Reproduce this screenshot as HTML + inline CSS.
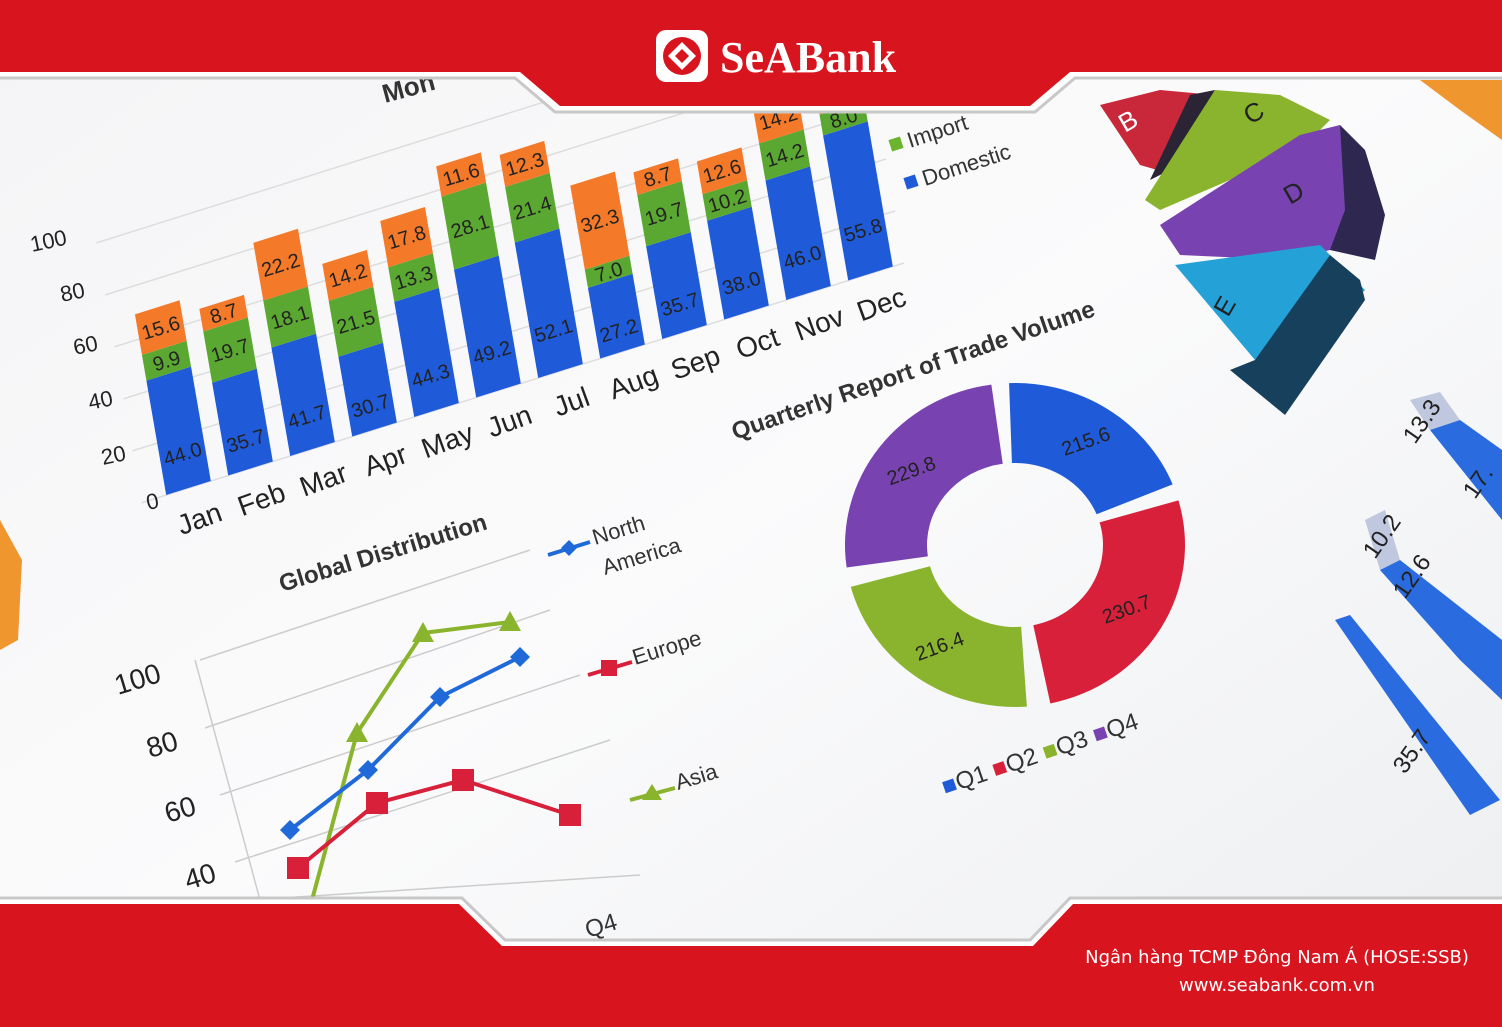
<!DOCTYPE html>
<html><head><meta charset="utf-8"><style>
html,body{margin:0;padding:0;background:#fff}
svg{display:block}
text{font-family:"Liberation Sans",sans-serif}
</style></head><body>
<svg id="s" width="1502" height="1027" viewBox="0 0 1502 1027" xmlns="http://www.w3.org/2000/svg">
<defs>
<linearGradient id="bg" x1="0" y1="0" x2="1" y2="1"><stop offset="0" stop-color="#f4f4f6"/><stop offset="0.5" stop-color="#fbfbfc"/><stop offset="1" stop-color="#eceef0"/></linearGradient>
</defs>
<rect width="1502" height="1027" fill="url(#bg)"/>
<polygon points="0,520 22,560 18,640 0,650" fill="#f0962e"/>
<polygon points="1420,80 1502,80 1502,140 1460,110" fill="#f0962e"/>

<polygon points="1100,105 1160,90 1215,95 1175,175 1140,165" fill="#c8283a"/>
<polygon points="1190,95 1215,90 1170,170 1150,180" fill="#2a2434"/>
<polygon points="1215,90 1280,95 1330,120 1300,150 1160,210 1145,200" fill="#8ab42e"/>
<polygon points="1300,135 1340,125 1375,190 1370,240 1290,260 1180,255 1160,225" fill="#7842b0"/>
<polygon points="1340,125 1365,150 1385,215 1375,260 1330,250 1345,210" fill="#2e2850"/>
<polygon points="1175,265 1320,245 1365,290 1325,330 1255,360" fill="#24a2d8"/>
<polygon points="1330,255 1360,280 1365,300 1285,415 1230,370 1255,360" fill="#16405c"/>
<text x="1125" y="133" font-size="26" fill="#fff" transform="rotate(-30 1125 133)">B</text>
<text x="1250" y="125" font-size="26" fill="#222" transform="rotate(-30 1250 125)">C</text>
<text x="1290" y="205" font-size="26" fill="#222" transform="rotate(-30 1290 205)">D</text>
<text x="1228" y="318" font-size="26" fill="#222" transform="rotate(-60 1228 318)">E</text>

<polygon points="1410,400 1440,392 1460,420 1430,430" fill="#c0c8e0"/>
<polygon points="1430,430 1460,420 1502,450 1502,520 1470,480" fill="#2a6ce0"/>
<polygon points="1365,520 1385,510 1400,560 1380,570" fill="#c0c8e0"/>
<polygon points="1380,570 1400,560 1502,640 1502,700 1460,660" fill="#2a6ce0"/>
<polygon points="1335,620 1350,615 1500,800 1470,815" fill="#2a6ce0"/>
<text x="1415" y="445" font-size="24" fill="#222" transform="rotate(-55 1415 445)">13.3</text>
<text x="1475" y="500" font-size="24" fill="#222" transform="rotate(-55 1475 500)">17.</text>
<text x="1375" y="560" font-size="24" fill="#222" transform="rotate(-55 1375 560)">10.2</text>
<text x="1405" y="600" font-size="24" fill="#222" transform="rotate(-55 1405 600)">12.6</text>
<text x="1405" y="775" font-size="24" fill="#222" transform="rotate(-55 1405 775)">35.7</text>

<g id="bars"></g>

<text x="148" y="510" font-size="22" fill="#222" transform="rotate(-12 148 510)">0</text>
<text x="103" y="465" font-size="22" fill="#222" transform="rotate(-12 103 465)">20</text>
<text x="90" y="410" font-size="22" fill="#222" transform="rotate(-12 90 410)">40</text>
<text x="75" y="355" font-size="22" fill="#222" transform="rotate(-12 75 355)">60</text>
<text x="62" y="302" font-size="22" fill="#222" transform="rotate(-12 62 302)">80</text>
<text x="32" y="252" font-size="22" fill="#222" transform="rotate(-12 32 252)">100</text>
<text x="385" y="103" font-size="26" font-weight="bold" fill="#333" transform="rotate(-15 385 103)">Mon</text>
<rect x="890" y="138" width="12" height="12" fill="#6ab42e" transform="rotate(-18 896 144)"/>
<text x="910" y="148" font-size="22" fill="#333" transform="rotate(-18 910 148)">Import</text>
<rect x="905" y="176" width="12" height="12" fill="#1f5ad8" transform="rotate(-18 911 182)"/>
<text x="925" y="186" font-size="22" fill="#333" transform="rotate(-18 925 186)">Domestic</text>

<g id="donut"></g>
<text x="735" y="440" font-size="24" font-weight="bold" fill="#333" transform="rotate(-19 735 440)">Quarterly Report of Trade Volume</text>
<text x="945" y="795" font-size="24" fill="#333" transform="rotate(-19 945 795)"><tspan fill="#1f5ad8">■</tspan>Q1 <tspan fill="#d8203a">■</tspan>Q2 <tspan fill="#8ab42e">■</tspan>Q3 <tspan fill="#7842b0">■</tspan>Q4</text>

<text x="282" y="592" font-size="24" font-weight="bold" fill="#333" transform="rotate(-17 282 592)">Global Distribution</text>
<g stroke="#ccc" stroke-width="1.5">
<line x1="200" y1="660" x2="530" y2="550"/><line x1="205" y1="728" x2="550" y2="610"/>
<line x1="220" y1="795" x2="580" y2="675"/><line x1="235" y1="862" x2="610" y2="740"/>
<line x1="250" y1="900" x2="640" y2="875"/><line x1="195" y1="660" x2="260" y2="900"/>
</g>
<text x="118" y="695" font-size="28" fill="#222" transform="rotate(-17 118 695)">100</text>
<text x="150" y="758" font-size="28" fill="#222" transform="rotate(-17 150 758)">80</text>
<text x="168" y="823" font-size="28" fill="#222" transform="rotate(-17 168 823)">60</text>
<text x="188" y="890" font-size="28" fill="#222" transform="rotate(-17 188 890)">40</text>
<polyline points="312,900 357,733 423,633 510,622" fill="none" stroke="#8ab42e" stroke-width="4"/>
<polyline points="290,830 368,770 440,697 520,657" fill="none" stroke="#1f6ad8" stroke-width="4"/>
<polyline points="298,868 377,803 463,780 570,815" fill="none" stroke="#d8203a" stroke-width="4"/>
<g fill="#8ab42e"><polygon points="357,722 368,742 346,742"/><polygon points="423,622 434,642 412,642"/><polygon points="510,611 521,631 499,631"/></g>
<g fill="#1f6ad8"><polygon points="290,820 300,830 290,840 280,830"/><polygon points="368,760 378,770 368,780 358,770"/><polygon points="440,687 450,697 440,707 430,697"/><polygon points="520,647 530,657 520,667 510,657"/></g>
<g fill="#d8203a"><rect x="287" y="857" width="22" height="22"/><rect x="366" y="792" width="22" height="22"/><rect x="452" y="769" width="22" height="22"/><rect x="559" y="804" width="22" height="22"/></g>
<line x1="548" y1="555" x2="590" y2="542" stroke="#1f6ad8" stroke-width="4"/><polygon points="569,540 577,548 569,556 561,548" fill="#1f6ad8"/>
<text x="595" y="545" font-size="22" fill="#333" transform="rotate(-17 595 545)">North</text>
<text x="605" y="575" font-size="22" fill="#333" transform="rotate(-17 605 575)">America</text>
<line x1="588" y1="675" x2="632" y2="662" stroke="#d8203a" stroke-width="4"/><rect x="601" y="660" width="16" height="16" fill="#d8203a"/>
<text x="635" y="665" font-size="22" fill="#333" transform="rotate(-17 635 665)">Europe</text>
<line x1="630" y1="800" x2="675" y2="788" stroke="#8ab42e" stroke-width="4"/><polygon points="652,784 662,800 642,800" fill="#8ab42e"/>
<text x="678" y="790" font-size="22" fill="#333" transform="rotate(-17 678 790)">Asia</text>
<text x="588" y="938" font-size="24" fill="#333" transform="rotate(-17 588 938)">Q4</text>

<path d="M0,0 H1502 V78 H1075 L1035,112 H555 L515,78 H0 Z" fill="#fff"/>
<path d="M0,0 H1502 V72 H1070 L1030,106 H560 L520,72 H0 Z" fill="#d8141e"/>
<path d="M0,78 H515 L555,112 H1035 L1075,78 H1502" fill="none" stroke="#c8c8c8" stroke-width="3"/>
<rect x="656" y="30" width="52" height="52" rx="10" fill="#fff"/>
<circle cx="682" cy="56" r="19" fill="#d8141e"/>
<polygon points="682,42 696,56 682,70 668,56" fill="#fff"/>
<polygon points="682,49 689,56 682,63 675,56" fill="#d8141e"/>
<text x="720" y="72" font-size="44" font-weight="bold" fill="#fff" style="font-family:'Liberation Serif',serif">SeABank</text>

<path d="M0,1027 H1502 V898 H1070 L1030,940 H505 L462,898 H0 Z" fill="#fff"/>
<path d="M0,1027 H1502 V904 H1073 L1033,946 H502 L459,904 H0 Z" fill="#d8141e"/>
<path d="M0,898 H462 L505,940 H1030 L1070,898 H1502" fill="none" stroke="#c8c8c8" stroke-width="3"/>
<text x="1277" y="963" font-size="18" fill="#fff" text-anchor="middle" style="font-family:'DejaVu Sans',sans-serif">Ngân hàng TCMP Đông Nam Á (HOSE:SSB)</text>
<text x="1277" y="991" font-size="18" fill="#fff" text-anchor="middle" style="font-family:'DejaVu Sans',sans-serif">www.seabank.com.vn</text>
</svg>
<script>
var NS="http://www.w3.org/2000/svg",g=document.getElementById("bars");
var B=[44.0,35.7,41.7,30.7,44.3,49.2,52.1,27.2,35.7,38.0,46.0,55.8],
G=[9.9,19.7,18.1,21.5,13.3,28.1,21.4,7.0,19.7,10.2,14.2,8],
O=[15.6,8.7,22.2,14.2,17.8,11.6,12.3,32.3,8.7,12.6,14.2,10],
M=["Jan","Feb","Mar","Apr","May","Jun","Jul","Aug","Sep","Oct","Nov","Dec"];
function P(u,v){return[160+62*u-0.45*v,497-19.5*u-2.6*v];}
function el(t,a,txt){var e=document.createElementNS(NS,t);for(var k in a)e.setAttribute(k,a[k]);if(txt)e.textContent=txt;g.appendChild(e);return e;}
for(var v=0;v<=100;v+=20){var a=P(-0.3,v),b=P(12,v);el("line",{x1:a[0],y1:a[1],x2:b[0],y2:b[1],stroke:"#ddd","stroke-width":1.5});}
for(var i=0;i<12;i++){
 var u0=i+0.1,u1=i+0.82,segs=[[0,B[i],"#1f5ad8"],[B[i],B[i]+G[i],"#5aa832"],[B[i]+G[i],B[i]+G[i]+O[i],"#f47a2a"]];
 segs.forEach(function(s,j){var p=[P(u0,s[0]),P(u1,s[0]),P(u1,s[1]),P(u0,s[1])];
  el("polygon",{points:p.map(function(q){return q.join(",")}).join(" "),fill:s[2]});
  var c=P((u0+u1)/2,(s[0]+s[1])/2+(j==0?-s[1]*0.2:0));
  var val=[B[i],G[i],O[i]][j].toFixed(1);
  el("text",{x:c[0],y:c[1]+7,"font-size":20,fill:"#222","text-anchor":"middle",transform:"rotate(-17 "+c[0]+" "+c[1]+")"},val);
 });
 var m=P(i+0.55,-13);
 el("text",{x:m[0],y:m[1]+8,"font-size":28,fill:"#222","text-anchor":"middle",transform:"rotate(-20 "+m[0]+" "+m[1]+")"},M[i]);
}
var d=document.getElementById("donut"),cx=1015,cy=545;
function pt(a,rx,ry){a=a*Math.PI/180;return[cx+rx*Math.cos(a),cy+ry*Math.sin(a)];}
function seg(a0,a1,col,lab){var o0=pt(a0,170,162),o1=pt(a1,170,162),i1=pt(a1,88,82),i0=pt(a0,88,82);
 var p=document.createElementNS(NS,"path");
 p.setAttribute("d","M"+o0+" A170,162 0 0 1 "+o1+" L"+i1+" A88,82 0 0 0 "+i0+" Z");p.setAttribute("fill",col);d.appendChild(p);
 var m=pt((a0+a1)/2,130,124),t=document.createElementNS(NS,"text");
 t.setAttribute("x",m[0]);t.setAttribute("y",m[1]+7);t.setAttribute("font-size",20);t.setAttribute("text-anchor","middle");t.setAttribute("fill","#222");
 t.setAttribute("transform","rotate(-20 "+m[0]+" "+m[1]+")");t.textContent=lab;d.appendChild(t);}
seg(-92,-22,"#1f5ad8","215.6");seg(-16,78,"#d8203a","230.7");seg(86,165,"#8ab42e","216.4");seg(172,262,"#7842b0","229.8");
</script>
</body></html>
